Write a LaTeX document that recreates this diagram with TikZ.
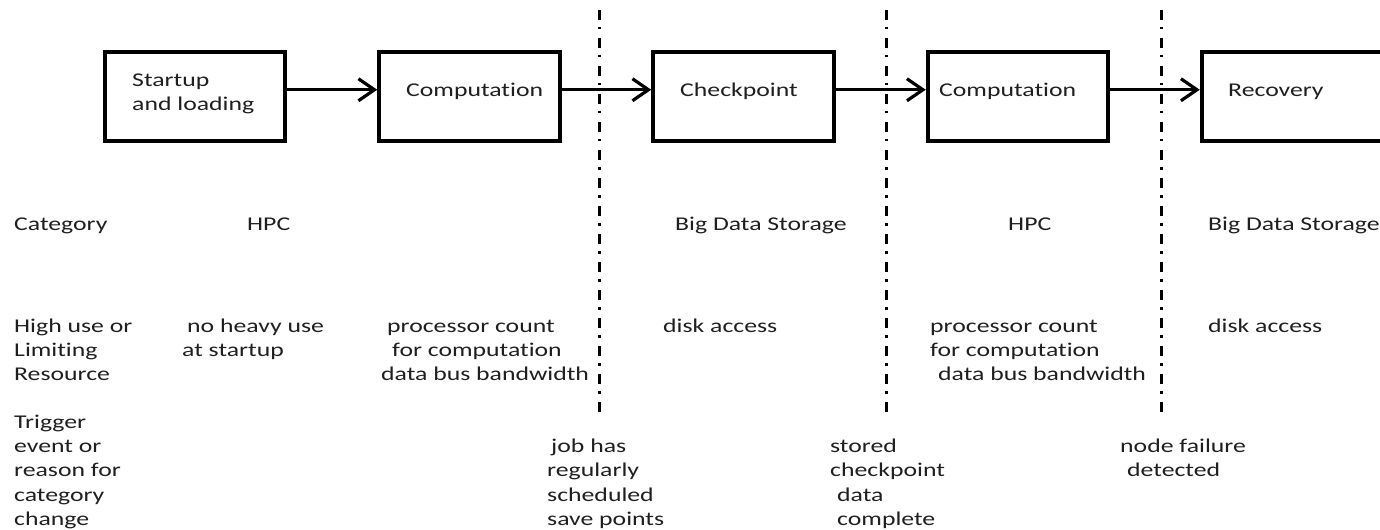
\documentclass[tikz,border=0pt]{standalone}
\usepackage{fontspec}
\setmainfont{Carlito}[FakeStretch=1.32, Ligatures=NoCommon]
\usetikzlibrary{arrows.meta}
\begin{document}
\begin{tikzpicture}[x=1bp,y=-1bp,
  box/.style={draw=black, line width=4bp, minimum width=180.5bp, minimum height=89.5bp, inner sep=0pt},
  arr/.style={line width=3.2bp, -{Straight Barb[length=16bp, width=22bp]}},
  dd/.style={line width=3bp, dash pattern=on 10bp off 7bp on 2.5bp off 8.5bp},
  txt/.style={anchor=base west, inner sep=0pt, text=black!88,
    font=\fontsize{19.5bp}{24.4bp}\selectfont}]
\useasboundingbox (0,0) rectangle (1380,530);
% boxes
\node[box] (b1) at (195,96.75) {};
\node[box] (b2) at (469.5,96.75) {};
\node[box] (b3) at (743.5,96.75) {};
\node[box] (b4) at (1018,96.75) {};
\node[box] (b5) at (1292,96.75) {};
% box texts
\node[txt] (t1a) at (132,86.5) {Startup};
\node[txt] (t1b) at (132,111) {and loading};
\node[txt] (t2) at (406,97) {Computation};
\node[txt] (t3) at (680,97) {Checkpoint};
\node[txt] (t4) at (939,97) {Computation};
\node[txt] (t5) at (1228,97) {Recovery};
% arrows
\draw[arr] ([yshift=7bp]b1.east) -- ([yshift=7bp]b2.west);
\draw[arr] ([yshift=7bp]b2.east) -- ([yshift=7bp]b3.west);
\draw[arr] ([yshift=7bp]b3.east) -- ([yshift=7bp]b4.west);
\draw[arr] ([yshift=7bp]b4.east) -- ([yshift=7bp]b5.west);
% dash-dot separators
\coordinate (d1t) at (599,10);   \coordinate (d1b) at (599,415);
\coordinate (d2t) at (886.5,10); \coordinate (d2b) at (886.5,415);
\coordinate (d3t) at (1161,10);  \coordinate (d3b) at (1161,415);
\draw[dd] (d1t) -- (d1b);
\draw[dd] (d2t) -- (d2b);
\draw[dd] (d3t) -- (d3b);
% category row
\node[txt] (c0) at (14,231) {Category};
\node[txt] (c1) at (247,231) {HPC};
\node[txt] (c2) at (675,231) {Big Data Storage};
\node[txt] (c3) at (1008,231) {HPC};
\node[txt] (c4) at (1208,231) {Big Data Storage};
% resource row
\node[txt] (r0a) at (14,332) {High use or};
\node[txt] (r0b) at (14,356.4) {Limiting};
\node[txt] (r0c) at (14,380.8) {Resource};
\node[txt] (r1a) at (187,332) {no heavy use};
\node[txt] (r1b) at (182,356.4) {at startup};
\node[txt] (r2a) at (387,332) {processor count};
\node[txt] (r2b) at (392,356.4) {for computation};
\node[txt] (r2c) at (381,380.8) {data bus bandwidth};
\node[txt] (r3) at (663,332) {disk access};
\node[txt] (r4a) at (930,332) {processor count};
\node[txt] (r4b) at (930,356.4) {for computation};
\node[txt] (r4c) at (938,380.8) {data bus bandwidth};
\node[txt] (r5) at (1208,332) {disk access};
% trigger row
\node[txt] (g0a) at (14,428) {Trigger};
\node[txt] (g0b) at (14,452.4) {event or};
\node[txt] (g0c) at (14,476.8) {reason for};
\node[txt] (g0d) at (14,501.2) {category};
\node[txt] (g0e) at (14,525.6) {change};
\node[txt] (g1a) at (551,452.4) {job has};
\node[txt] (g1b) at (547,476.8) {regularly};
\node[txt] (g1c) at (547,501.2) {scheduled};
\node[txt] (g1d) at (547,525.6) {save points};
\node[txt] (g2a) at (830,452.4) {stored};
\node[txt] (g2b) at (830,476.8) {checkpoint};
\node[txt] (g2c) at (837,501.2) {data};
\node[txt] (g2d) at (837,525.6) {complete};
\node[txt] (g3a) at (1120,452.4) {node failure};
\node[txt] (g3b) at (1127,476.8) {detected};
\end{tikzpicture}
\end{document}
